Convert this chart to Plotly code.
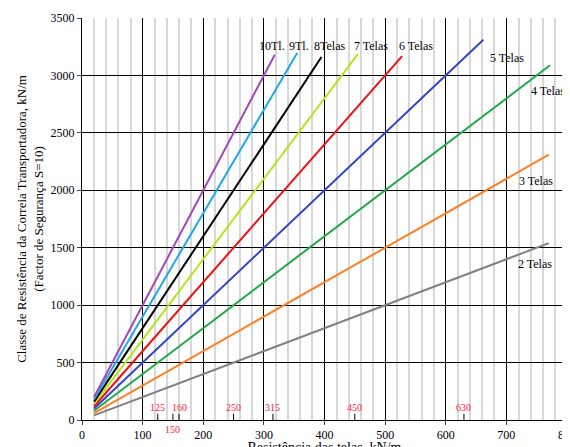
import plotly.graph_objects as go

plies = [2, 3, 4, 5, 6, 7, 8, 9, 10]
x_start = 20
x_end = [770, 770, 772, 662, 528, 455, 395, 355, 318]
colors = ["#808080", "#ff7f27", "#22a84a", "#3344cc", "#ee1111", "#b5e61d", "#000000", "#1ea8e8", "#a347ba"]
labels = ["2 Telas", "3 Telas", "4 Telas", "5 Telas", "6 Telas", "7 Telas", "8Telas", "9Tl.", "10Tl."]
label_x = [747, 749, 769, 701, 551, 477, 409, 358, 313]
label_y = [1358, 2080, 2863, 3150, 3255, 3255, 3255, 3255, 3255]
std_vals = [125, 150, 160, 250, 315, 450, 630]

fig = go.Figure()
for n, xe, c in zip(plies, x_end, colors):
    fig.add_trace(go.Scatter(x=[x_start, xe], y=[n * x_start, n * xe], mode="lines",
                             line=dict(color=c, width=2), showlegend=False, hoverinfo="skip"))
for lab, lx, ly in zip(labels, label_x, label_y):
    fig.add_annotation(x=lx, y=ly, text=lab, showarrow=False,
                       font=dict(family="Liberation Serif", size=12, color="black"))
for v in std_vals:
    fig.add_trace(go.Scatter(x=[v, v], y=[0, 55], mode="lines", line=dict(color="black", width=1),
                             showlegend=False, hoverinfo="skip"))
    if v == 150:
        fig.add_annotation(x=v, y=0, yref="paper", yanchor="top", yshift=-2, text=str(v),
                           showarrow=False, font=dict(family="Liberation Serif", size=10, color="#ff2040"))
    else:
        fig.add_annotation(x=v, y=110, text=str(v), showarrow=False,
                           font=dict(family="Liberation Serif", size=10, color="#ff2040"))

fig.update_layout(
    width=570, height=447, margin=dict(l=74, r=11, t=10, b=35, autoexpand=False),
    plot_bgcolor="white", paper_bgcolor="white",
    font=dict(family="Liberation Serif", size=12, color="black"),
    xaxis=dict(range=[0, 800], dtick=100, showgrid=True, gridcolor="black", gridwidth=1,
               showline=True, linecolor="black", ticks="outside", ticklen=4, zeroline=False,
               automargin=False,
               minor=dict(dtick=20, showgrid=True, gridcolor="#d8d8d8", gridwidth=2),
               title=dict(text="Resistência das telas, kN/m", standoff=2, font=dict(size=14))),
    yaxis=dict(range=[0, 3500], dtick=500, showgrid=True, gridcolor="black", gridwidth=1,
               showline=True, linecolor="black", ticks="outside", ticklen=4, zeroline=False,
               automargin=False,
               title=dict(text="Classe de Resistência da Correia Transportadora, kN/m<br>(Factor de Segurança S=10)",
                          standoff=4, font=dict(size=13))),
)
fig.write_html("out.html")
